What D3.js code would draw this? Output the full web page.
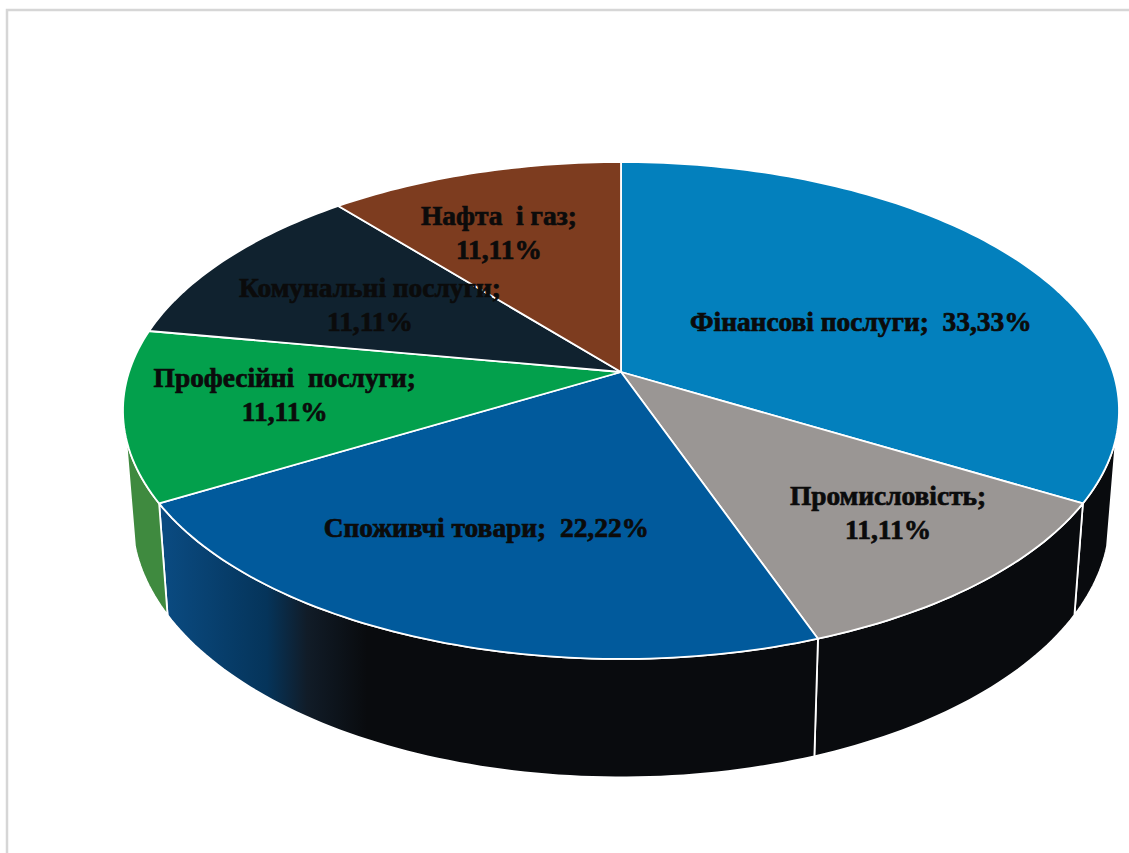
<!DOCTYPE html>
<html>
<head>
<meta charset="utf-8">
<script src="https://cdn.jsdelivr.net/npm/d3@7"></script>
<style>
  html, body { margin: 0; padding: 0; background: #fff; overflow: hidden; }
  svg { display: block; }
  text { font-family: "Liberation Serif", serif; font-weight: bold; white-space: pre; }
</style>
</head>
<body>
<div id="chart"></div>
<script>
const categories = ["Фінансові послуги;", "Промисловість;", "Споживчі товари;", "Професійні  послуги;", "Комунальні послуги;", "Нафта  і газ;"];
const shares = [33.33, 11.11, 22.22, 11.11, 11.11, 11.11];
const topColors = ["#0380bd", "#9a9694", "#015a9c", "#03a04c", "#10222f", "#7d3c1f"];
const wallColors = ["#090b0e", "#090b0e", "url(#wallBlue)", "#3f8a3f", "none", "none"];

// how each label is split into lines, and where it sits inside its slice
const oneLine = [true, false, true, false, false, false];
const labelRadius = [0.547, 0.73, 0.637, 0.68, 0.606, 0.686];
const labelTurn = [7, -3, 3, 2, -1.6, -3.4];

const width = 1129, height = 853;
const svg = d3.select("#chart").append("svg").attr("width", width).attr("height", height);

// frame of the picture, only top and left are visible
svg.append("path")
  .attr("d", `M7,${height}V10H${width}`)
  .attr("fill", "none")
  .attr("stroke", "#d6d6d6")
  .attr("stroke-width", 2.5);

const defs = svg.append("defs");
const grad = defs.append("linearGradient")
  .attr("id", "wallBlue")
  .attr("gradientUnits", "userSpaceOnUse")
  .attr("x1", 167).attr("x2", 367).attr("y1", 0).attr("y2", 0);
[[0, "#0a4a80"], [0.5, "#05345a"], [0.7, "#111c28"], [1, "#090b0e"]].forEach(s => {
  grad.append("stop").attr("offset", s[0]).attr("stop-color", s[1]);
});

// perspective of the tilted disc, p is how much nearer the front edge is
const p = 0.155;
const topFace = { cy: 372, rx: 492, ry: 242.5 };
const bottomFace = { cy: 478, rx: 483, ry: 253 };

function project(face, angle, r) {
  const u = Math.sin(angle) * r;
  const v = -Math.cos(angle) * r;
  const w = 1 - p * v;
  return [621 + face.rx * u / w, face.cy + face.ry * v / w];
}

function arcPoints(face, a0, a1) {
  const steps = Math.max(2, Math.ceil((a1 - a0) / 0.02));
  return d3.range(steps + 1).map(i => project(face, a0 + (a1 - a0) * i / steps, 1));
}

const line = d3.line();
const pie = d3.pie().sort(null).value(d => d);
const slices = pie(shares);

// part of the side that can be seen, from 105 to 255 degrees
const wallFrom = 105 * Math.PI / 180;
const wallTo = 255 * Math.PI / 180;

svg.append("g").selectAll("path")
  .data(slices.filter(d => d.startAngle < wallTo && d.endAngle > wallFrom))
  .join("path")
  .attr("d", d => {
    const a0 = Math.max(d.startAngle, wallFrom);
    const a1 = Math.min(d.endAngle, wallTo);
    return line(arcPoints(topFace, a0, a1).concat(arcPoints(bottomFace, a0, a1).reverse())) + "Z";
  })
  .attr("fill", d => wallColors[d.index])
  .attr("stroke", "#fff")
  .attr("stroke-width", 1.8)
  .attr("stroke-linejoin", "round");

svg.append("g").selectAll("path")
  .data(slices)
  .join("path")
  .attr("d", d => line([project(topFace, 0, 0)].concat(arcPoints(topFace, d.startAngle, d.endAngle))) + "Z")
  .attr("fill", d => topColors[d.index])
  .attr("stroke", "#fff")
  .attr("stroke-width", 1.8)
  .attr("stroke-linejoin", "round");

// labels
const percent = v => v.toFixed(2).replace(".", ",") + "%";
const labels = svg.append("g").selectAll("text")
  .data(slices)
  .join("text")
  .attr("text-anchor", "middle")
  .attr("font-size", 27.4)
  .attr("fill", "#0b0b0b")
  .attr("stroke", "#0b0b0b")
  .attr("stroke-width", 0.7)
  .attr("transform", d => {
    const mid = (d.startAngle + d.endAngle) / 2 + labelTurn[d.index] * Math.PI / 180;
    const c = project(topFace, mid, labelRadius[d.index]);
    return `translate(${c[0]},${c[1]})`;
  });

labels.each(function(d) {
  const t = d3.select(this);
  if (oneLine[d.index]) {
    t.append("tspan").attr("x", 0).attr("y", 9).text(categories[d.index] + "  " + percent(d.data));
  } else {
    t.append("tspan").attr("x", 0).attr("y", -8).text(categories[d.index]);
    t.append("tspan").attr("x", 0).attr("y", 26).text(percent(d.data));
  }
});
</script>
</body>
</html>
